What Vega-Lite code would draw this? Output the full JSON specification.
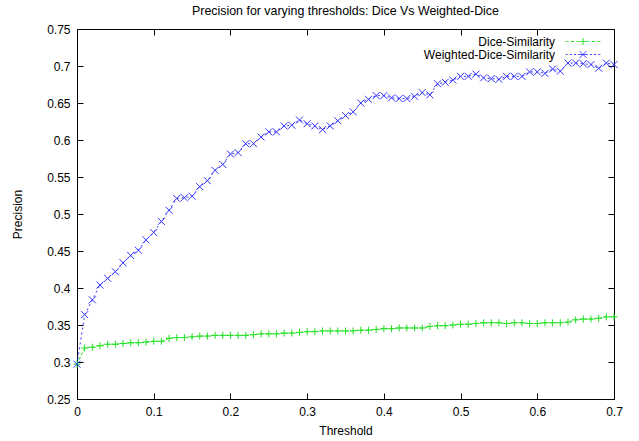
{
  "$schema": "https://vega.github.io/schema/vega-lite/v6.json",
  "width": 537,
  "height": 370,
  "autosize": {"type": "none"},
  "padding": {"left": 77, "top": 29, "right": 25, "bottom": 42},
  "background": "white",
  "title": {"text": "Precision for varying thresholds: Dice Vs Weighted-Dice", "fontSize": 12.4, "fontWeight": "normal", "font": "Liberation Sans", "color": "black", "offset": 6},
  "config": {
    "view": {"stroke": "black", "strokeWidth": 1},
    "font": "Liberation Sans",
    "axis": {"labelFont": "Liberation Sans", "titleFont": "Liberation Sans", "labelFontSize": 12, "titleFontSize": 12, "titleFontWeight": "normal", "labelColor": "black", "titleColor": "black", "domain": false, "tickColor": "black", "tickWidth": 1, "grid": false, "tickSize": 6, "offset": -6, "labelPadding": 7},
    "legend": {"orient": "none", "legendX": 338, "legendY": 6, "padding": 0, "title": null, "labelFontSize": 12, "labelFont": "Liberation Sans", "labelColor": "black", "symbolSize": 144, "symbolStrokeWidth": 1, "rowPadding": -3, "labelAlign": "right", "labelOffset": 127}
  },
  "data": {"values": [
    {"t":0,"s":"Dice-Similarity","v":0.297},{"t":0.01,"s":"Dice-Similarity","v":0.319},{"t":0.02,"s":"Dice-Similarity","v":0.320},{"t":0.03,"s":"Dice-Similarity","v":0.322},{"t":0.04,"s":"Dice-Similarity","v":0.324},{"t":0.05,"s":"Dice-Similarity","v":0.324},{"t":0.06,"s":"Dice-Similarity","v":0.325},{"t":0.07,"s":"Dice-Similarity","v":0.326},{"t":0.08,"s":"Dice-Similarity","v":0.326},{"t":0.09,"s":"Dice-Similarity","v":0.327},
    {"t":0.10,"s":"Dice-Similarity","v":0.328},{"t":0.11,"s":"Dice-Similarity","v":0.328},{"t":0.12,"s":"Dice-Similarity","v":0.332},{"t":0.13,"s":"Dice-Similarity","v":0.333},{"t":0.14,"s":"Dice-Similarity","v":0.333},{"t":0.15,"s":"Dice-Similarity","v":0.334},{"t":0.16,"s":"Dice-Similarity","v":0.335},{"t":0.17,"s":"Dice-Similarity","v":0.335},{"t":0.18,"s":"Dice-Similarity","v":0.336},{"t":0.19,"s":"Dice-Similarity","v":0.336},
    {"t":0.20,"s":"Dice-Similarity","v":0.336},{"t":0.21,"s":"Dice-Similarity","v":0.336},{"t":0.22,"s":"Dice-Similarity","v":0.336},{"t":0.23,"s":"Dice-Similarity","v":0.337},{"t":0.24,"s":"Dice-Similarity","v":0.338},{"t":0.25,"s":"Dice-Similarity","v":0.338},{"t":0.26,"s":"Dice-Similarity","v":0.338},{"t":0.27,"s":"Dice-Similarity","v":0.339},{"t":0.28,"s":"Dice-Similarity","v":0.339},{"t":0.29,"s":"Dice-Similarity","v":0.340},
    {"t":0.30,"s":"Dice-Similarity","v":0.341},{"t":0.31,"s":"Dice-Similarity","v":0.341},{"t":0.32,"s":"Dice-Similarity","v":0.342},{"t":0.33,"s":"Dice-Similarity","v":0.342},{"t":0.34,"s":"Dice-Similarity","v":0.342},{"t":0.35,"s":"Dice-Similarity","v":0.342},{"t":0.36,"s":"Dice-Similarity","v":0.342},{"t":0.37,"s":"Dice-Similarity","v":0.343},{"t":0.38,"s":"Dice-Similarity","v":0.343},{"t":0.39,"s":"Dice-Similarity","v":0.344},
    {"t":0.40,"s":"Dice-Similarity","v":0.345},{"t":0.41,"s":"Dice-Similarity","v":0.345},{"t":0.42,"s":"Dice-Similarity","v":0.346},{"t":0.43,"s":"Dice-Similarity","v":0.346},{"t":0.44,"s":"Dice-Similarity","v":0.346},{"t":0.45,"s":"Dice-Similarity","v":0.346},{"t":0.46,"s":"Dice-Similarity","v":0.348},{"t":0.47,"s":"Dice-Similarity","v":0.349},{"t":0.48,"s":"Dice-Similarity","v":0.349},{"t":0.49,"s":"Dice-Similarity","v":0.350},
    {"t":0.50,"s":"Dice-Similarity","v":0.351},{"t":0.51,"s":"Dice-Similarity","v":0.351},{"t":0.52,"s":"Dice-Similarity","v":0.352},{"t":0.53,"s":"Dice-Similarity","v":0.353},{"t":0.54,"s":"Dice-Similarity","v":0.353},{"t":0.55,"s":"Dice-Similarity","v":0.353},{"t":0.56,"s":"Dice-Similarity","v":0.352},{"t":0.57,"s":"Dice-Similarity","v":0.353},{"t":0.58,"s":"Dice-Similarity","v":0.353},{"t":0.59,"s":"Dice-Similarity","v":0.352},
    {"t":0.60,"s":"Dice-Similarity","v":0.352},{"t":0.61,"s":"Dice-Similarity","v":0.353},{"t":0.62,"s":"Dice-Similarity","v":0.353},{"t":0.63,"s":"Dice-Similarity","v":0.353},{"t":0.64,"s":"Dice-Similarity","v":0.354},{"t":0.65,"s":"Dice-Similarity","v":0.357},{"t":0.66,"s":"Dice-Similarity","v":0.358},{"t":0.67,"s":"Dice-Similarity","v":0.358},{"t":0.68,"s":"Dice-Similarity","v":0.359},{"t":0.69,"s":"Dice-Similarity","v":0.361},{"t":0.70,"s":"Dice-Similarity","v":0.361},
    {"t":0,"s":"Weighted-Dice-Similarity","v":0.297},{"t":0.01,"s":"Weighted-Dice-Similarity","v":0.364},{"t":0.02,"s":"Weighted-Dice-Similarity","v":0.384},{"t":0.03,"s":"Weighted-Dice-Similarity","v":0.404},{"t":0.04,"s":"Weighted-Dice-Similarity","v":0.413},{"t":0.05,"s":"Weighted-Dice-Similarity","v":0.422},{"t":0.06,"s":"Weighted-Dice-Similarity","v":0.434},{"t":0.07,"s":"Weighted-Dice-Similarity","v":0.444},{"t":0.08,"s":"Weighted-Dice-Similarity","v":0.451},{"t":0.09,"s":"Weighted-Dice-Similarity","v":0.465},
    {"t":0.10,"s":"Weighted-Dice-Similarity","v":0.475},{"t":0.11,"s":"Weighted-Dice-Similarity","v":0.490},{"t":0.12,"s":"Weighted-Dice-Similarity","v":0.505},{"t":0.13,"s":"Weighted-Dice-Similarity","v":0.521},{"t":0.14,"s":"Weighted-Dice-Similarity","v":0.522},{"t":0.15,"s":"Weighted-Dice-Similarity","v":0.524},{"t":0.16,"s":"Weighted-Dice-Similarity","v":0.537},{"t":0.17,"s":"Weighted-Dice-Similarity","v":0.545},{"t":0.18,"s":"Weighted-Dice-Similarity","v":0.559},{"t":0.19,"s":"Weighted-Dice-Similarity","v":0.567},
    {"t":0.20,"s":"Weighted-Dice-Similarity","v":0.581},{"t":0.21,"s":"Weighted-Dice-Similarity","v":0.583},{"t":0.22,"s":"Weighted-Dice-Similarity","v":0.595},{"t":0.23,"s":"Weighted-Dice-Similarity","v":0.595},{"t":0.24,"s":"Weighted-Dice-Similarity","v":0.604},{"t":0.25,"s":"Weighted-Dice-Similarity","v":0.611},{"t":0.26,"s":"Weighted-Dice-Similarity","v":0.611},{"t":0.27,"s":"Weighted-Dice-Similarity","v":0.619},{"t":0.28,"s":"Weighted-Dice-Similarity","v":0.620},{"t":0.29,"s":"Weighted-Dice-Similarity","v":0.627},
    {"t":0.30,"s":"Weighted-Dice-Similarity","v":0.622},{"t":0.31,"s":"Weighted-Dice-Similarity","v":0.619},{"t":0.32,"s":"Weighted-Dice-Similarity","v":0.614},{"t":0.33,"s":"Weighted-Dice-Similarity","v":0.619},{"t":0.34,"s":"Weighted-Dice-Similarity","v":0.626},{"t":0.35,"s":"Weighted-Dice-Similarity","v":0.633},{"t":0.36,"s":"Weighted-Dice-Similarity","v":0.638},{"t":0.37,"s":"Weighted-Dice-Similarity","v":0.650},{"t":0.38,"s":"Weighted-Dice-Similarity","v":0.655},{"t":0.39,"s":"Weighted-Dice-Similarity","v":0.660},
    {"t":0.40,"s":"Weighted-Dice-Similarity","v":0.660},{"t":0.41,"s":"Weighted-Dice-Similarity","v":0.657},{"t":0.42,"s":"Weighted-Dice-Similarity","v":0.656},{"t":0.43,"s":"Weighted-Dice-Similarity","v":0.656},{"t":0.44,"s":"Weighted-Dice-Similarity","v":0.659},{"t":0.45,"s":"Weighted-Dice-Similarity","v":0.664},{"t":0.46,"s":"Weighted-Dice-Similarity","v":0.661},{"t":0.47,"s":"Weighted-Dice-Similarity","v":0.676},{"t":0.48,"s":"Weighted-Dice-Similarity","v":0.678},{"t":0.49,"s":"Weighted-Dice-Similarity","v":0.681},
    {"t":0.50,"s":"Weighted-Dice-Similarity","v":0.686},{"t":0.51,"s":"Weighted-Dice-Similarity","v":0.686},{"t":0.52,"s":"Weighted-Dice-Similarity","v":0.689},{"t":0.53,"s":"Weighted-Dice-Similarity","v":0.684},{"t":0.54,"s":"Weighted-Dice-Similarity","v":0.683},{"t":0.55,"s":"Weighted-Dice-Similarity","v":0.682},{"t":0.56,"s":"Weighted-Dice-Similarity","v":0.686},{"t":0.57,"s":"Weighted-Dice-Similarity","v":0.686},{"t":0.58,"s":"Weighted-Dice-Similarity","v":0.686},{"t":0.59,"s":"Weighted-Dice-Similarity","v":0.692},
    {"t":0.60,"s":"Weighted-Dice-Similarity","v":0.692},{"t":0.61,"s":"Weighted-Dice-Similarity","v":0.690},{"t":0.62,"s":"Weighted-Dice-Similarity","v":0.696},{"t":0.63,"s":"Weighted-Dice-Similarity","v":0.693},{"t":0.64,"s":"Weighted-Dice-Similarity","v":0.704},{"t":0.65,"s":"Weighted-Dice-Similarity","v":0.704},{"t":0.66,"s":"Weighted-Dice-Similarity","v":0.703},{"t":0.67,"s":"Weighted-Dice-Similarity","v":0.702},{"t":0.68,"s":"Weighted-Dice-Similarity","v":0.697},{"t":0.69,"s":"Weighted-Dice-Similarity","v":0.704},{"t":0.70,"s":"Weighted-Dice-Similarity","v":0.702}
  ]},
  "resolve": {"axis": {"x": "independent", "y": "independent"}},
  "layer": [
    {
      "transform": [{"filter": "datum.s === 'Dice-Similarity'"}],
      "mark": {"type": "line", "strokeWidth": 1, "strokeDash": [3, 2], "clip": true},
      "encoding": {
        "x": {"field": "t", "type": "quantitative", "scale": {"domain": [0, 0.7], "nice": false, "zero": false},
              "axis": {"title": "Threshold", "values": [0,0.1,0.2,0.3,0.4,0.5,0.6,0.7], "format": "~g", "titlePadding": 8, "labelFlush": false, "orient": "bottom"}},
        "y": {"field": "v", "type": "quantitative", "scale": {"domain": [0.25, 0.75], "nice": false, "zero": false},
              "axis": {"title": "Precision", "values": [0.25,0.3,0.35,0.4,0.45,0.5,0.55,0.6,0.65,0.7,0.75], "format": "~g", "titlePadding": 22, "labelFlush": false, "orient": "left"}},
        "color": {"field": "s", "type": "nominal", "title": null, "scale": {"domain": ["Dice-Similarity", "Weighted-Dice-Similarity"], "range": ["#22e022", "#3333ff"]},
                  "legend": {"encode": {"symbols": {"update": {"x": {"value": 168}, "fill": {"value": "transparent"}, "strokeDash": {"value": [1, 0]}, "shape": {"signal": "datum.value === 'Dice-Similarity' ? 'M-2.9,0L-2.4,0M-2,0L-1.5,0M-1.1,0L-0.6,0M-0.58,0L0.58,0M0.6,0L1.1,0M1.5,0L2,0M2.4,0L2.9,0M0,-0.58L0,0.58' : 'M-2.9,0L-2.55,0M-2.2,0L-1.85,0M-1.5,0L-1.15,0M-0.8,0L0.8,0M1.15,0L1.5,0M1.85,0L2.2,0M2.55,0L2.9,0M-0.58,-0.58L0.58,0.58M-0.58,0.58L0.58,-0.58'"}}}}}}
      }
    },
    {
      "transform": [{"filter": "datum.s === 'Weighted-Dice-Similarity'"}],
      "mark": {"type": "line", "strokeWidth": 1, "strokeDash": [2, 3], "clip": true},
      "encoding": {
        "x": {"field": "t", "type": "quantitative", "axis": null},
        "y": {"field": "v", "type": "quantitative", "axis": null},
        "color": {"field": "s", "type": "nominal", "title": null,
                  "legend": {"encode": {"symbols": {"update": {"x": {"value": 168}, "fill": {"value": "transparent"}, "strokeDash": {"value": [1, 0]}, "shape": {"signal": "datum.value === 'Dice-Similarity' ? 'M-2.9,0L-2.4,0M-2,0L-1.5,0M-1.1,0L-0.6,0M-0.58,0L0.58,0M0.6,0L1.1,0M1.5,0L2,0M2.4,0L2.9,0M0,-0.58L0,0.58' : 'M-2.9,0L-2.55,0M-2.2,0L-1.85,0M-1.5,0L-1.15,0M-0.8,0L0.8,0M1.15,0L1.5,0M1.85,0L2.2,0M2.55,0L2.9,0M-0.58,-0.58L0.58,0.58M-0.58,0.58L0.58,-0.58'"}}}}}}
      }
    },
    {
      "transform": [{"filter": "datum.s === 'Dice-Similarity'"}],
      "mark": {"type": "point", "filled": false, "strokeWidth": 1, "size": 49, "opacity": 1, "shape": "M-1,0L1,0M0,-1L0,1"},
      "encoding": {
        "x": {"field": "t", "type": "quantitative", "axis": {"orient": "top", "labels": false, "title": null, "values": [0,0.1,0.2,0.3,0.4,0.5,0.6,0.7]}},
        "y": {"field": "v", "type": "quantitative", "axis": {"orient": "right", "labels": false, "title": null, "values": [0.25,0.3,0.35,0.4,0.45,0.5,0.55,0.6,0.65,0.7,0.75]}},
        "color": {"field": "s", "type": "nominal", "title": null,
                  "legend": {"encode": {"symbols": {"update": {"x": {"value": 168}, "fill": {"value": "transparent"}, "strokeDash": {"value": [1, 0]}, "shape": {"signal": "datum.value === 'Dice-Similarity' ? 'M-2.9,0L-2.4,0M-2,0L-1.5,0M-1.1,0L-0.6,0M-0.58,0L0.58,0M0.6,0L1.1,0M1.5,0L2,0M2.4,0L2.9,0M0,-0.58L0,0.58' : 'M-2.9,0L-2.55,0M-2.2,0L-1.85,0M-1.5,0L-1.15,0M-0.8,0L0.8,0M1.15,0L1.5,0M1.85,0L2.2,0M2.55,0L2.9,0M-0.58,-0.58L0.58,0.58M-0.58,0.58L0.58,-0.58'"}}}}}}
      }
    },
    {
      "transform": [{"filter": "datum.s === 'Weighted-Dice-Similarity'"}],
      "mark": {"type": "point", "filled": false, "strokeWidth": 1, "size": 49, "opacity": 1, "shape": "M-1,-1L1,1M-1,1L1,-1"},
      "encoding": {
        "x": {"field": "t", "type": "quantitative", "axis": null},
        "y": {"field": "v", "type": "quantitative", "axis": null},
        "color": {"field": "s", "type": "nominal", "title": null,
                  "legend": {"encode": {"symbols": {"update": {"x": {"value": 168}, "fill": {"value": "transparent"}, "strokeDash": {"value": [1, 0]}, "shape": {"signal": "datum.value === 'Dice-Similarity' ? 'M-2.9,0L-2.4,0M-2,0L-1.5,0M-1.1,0L-0.6,0M-0.58,0L0.58,0M0.6,0L1.1,0M1.5,0L2,0M2.4,0L2.9,0M0,-0.58L0,0.58' : 'M-2.9,0L-2.55,0M-2.2,0L-1.85,0M-1.5,0L-1.15,0M-0.8,0L0.8,0M1.15,0L1.5,0M1.85,0L2.2,0M2.55,0L2.9,0M-0.58,-0.58L0.58,0.58M-0.58,0.58L0.58,-0.58'"}}}}}}
      }
    }
  ]
}
